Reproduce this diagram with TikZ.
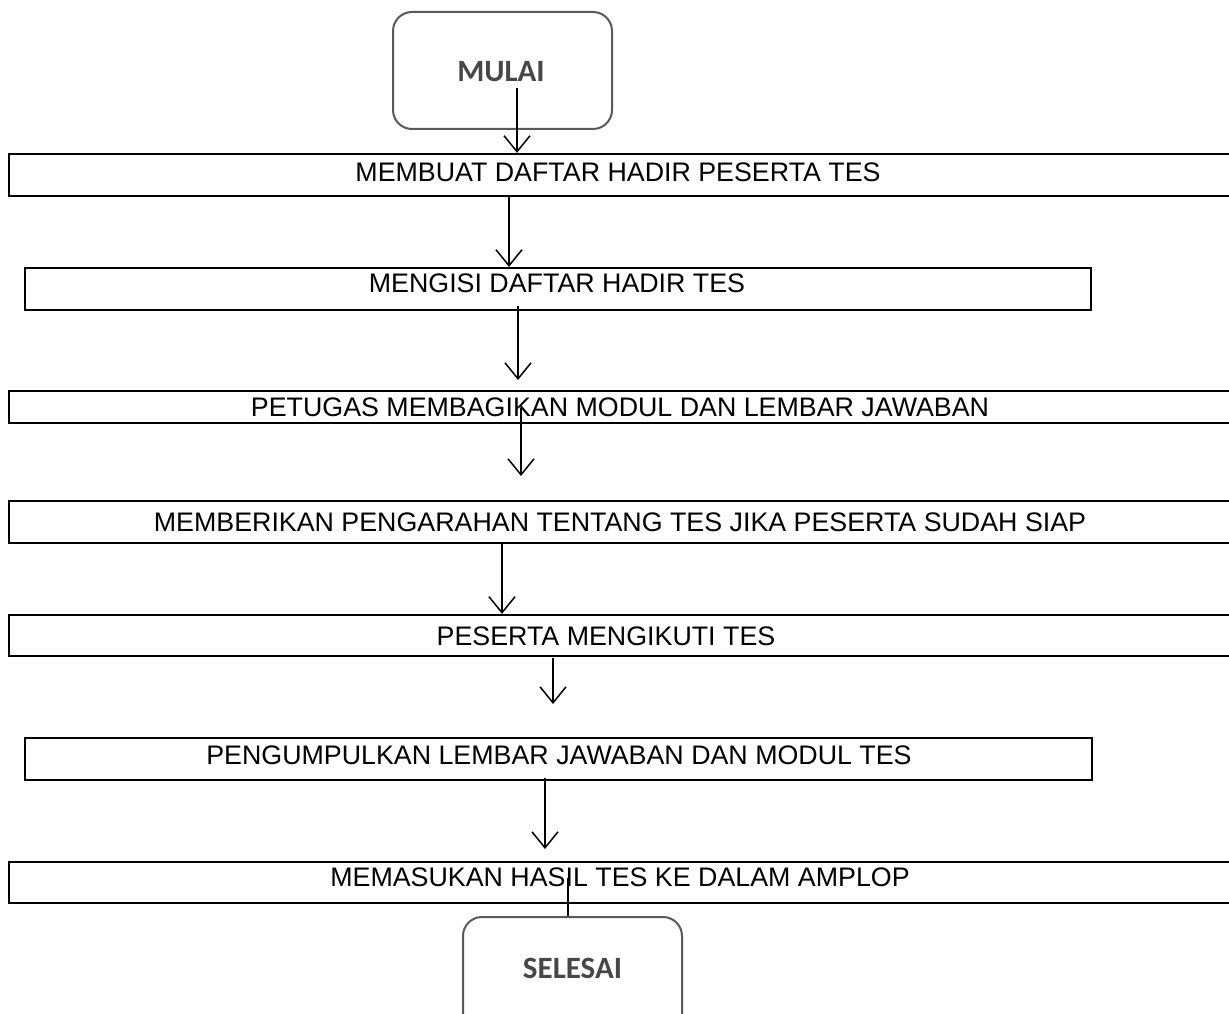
\documentclass[tikz,border=0pt]{standalone}
\usepackage{fontspec}
\setmainfont{Liberation Sans}
\newfontfamily\calfont{Carlito}
\usetikzlibrary{arrows.meta}
\begin{document}
\begin{tikzpicture}[x=1pt,y=-1pt,
  flowbox/.style={draw=black,line width=2.2pt,rectangle,inner sep=0pt,minimum height=42pt},
  flowtext/.style={inner sep=0pt,font=\fontsize{26.8}{30}\selectfont,text=black},
  rbox/.style={draw=black!65,line width=2pt,rounded corners=19pt,minimum width=219pt,minimum height=117pt,inner sep=0pt,fill=white},
  rtext/.style={inner sep=0pt,font=\calfont\bfseries\fontsize{31}{34}\selectfont,text=black!72},
  arr/.style={line width=1.5pt,-{Straight Barb[length=16pt,width=26pt,line width=1.5pt]}},
  plain/.style={line width=1.5pt}]
\useasboundingbox (0,0) rectangle (1229,1014);
\clip (0,0) rectangle (1229,1014);
% rounded terminals
\node[rbox] (mulai) at (502.5,70.5) {};
\node[rtext] (mulaitext) at (501,72) {MULAI};
\node[rbox] (selesai) at (572.5,975.5) {};
\node[rtext] (selesaitext) at (572.5,968) {SELESAI};
% process boxes
\node[flowbox,minimum width=1251pt] (b1) at (634.5,175) {};
\node[flowbox,minimum width=1066pt] (b2) at (558,289) {};
\node[flowbox,minimum width=1251pt,minimum height=32pt] (b3) at (634.5,407) {};
\node[flowbox,minimum width=1251pt] (b4) at (634.5,522) {};
\node[flowbox,minimum width=1251pt,minimum height=41pt] (b5) at (634.5,635.5) {};
\node[flowbox,minimum width=1067pt] (b6) at (558.5,759) {};
\node[flowbox,minimum width=1251pt,minimum height=41pt] (b7) at (634.5,882.5) {};
% texts
\node[flowtext] (t1) at (618,172.5) {MEMBUAT DAFTAR HADIR PESERTA TES};
\node[flowtext] (t2) at (557,283.5) {MENGISI DAFTAR HADIR TES};
\node[flowtext] (t3) at (620,407) {PETUGAS MEMBAGIKAN MODUL DAN LEMBAR JAWABAN};
\node[flowtext] (t4) at (620,522) {MEMBERIKAN PENGARAHAN TENTANG TES JIKA PESERTA SUDAH SIAP};
\node[flowtext] (t5) at (606,636) {PESERTA MENGIKUTI TES};
\node[flowtext] (t6) at (559,755) {PENGUMPULKAN LEMBAR JAWABAN DAN MODUL TES};
\node[flowtext] (t7) at (620,877) {MEMASUKAN HASIL TES KE DALAM AMPLOP};
% connectors
\coordinate (a1s) at (517,88);
\draw[arr] (a1s) -- (a1s |- b1.north);
\coordinate (a2s) at (509,197);
\draw[arr] (a2s) -- (a2s |- b2.north);
\coordinate (a3s) at (518,306);
\coordinate (a3e) at (518,380);
\draw[arr] (a3s) -- (a3e);
\coordinate (a4s) at (521,408);
\coordinate (a4e) at (521,476);
\draw[arr] (a4s) -- (a4e);
\coordinate (a5s) at (502,544);
\draw[arr] (a5s) -- (a5s |- b5.north);
\coordinate (a6s) at (553,658);
\coordinate (a6e) at (553,704);
\draw[arr] (a6s) -- (a6e);
\coordinate (a7s) at (545,778);
\coordinate (a7e) at (545,849);
\draw[arr] (a7s) -- (a7e);
\coordinate (l8s) at (568,878);
\draw[plain] (l8s) -- (l8s |- selesai.north);
\end{tikzpicture}
\end{document}
